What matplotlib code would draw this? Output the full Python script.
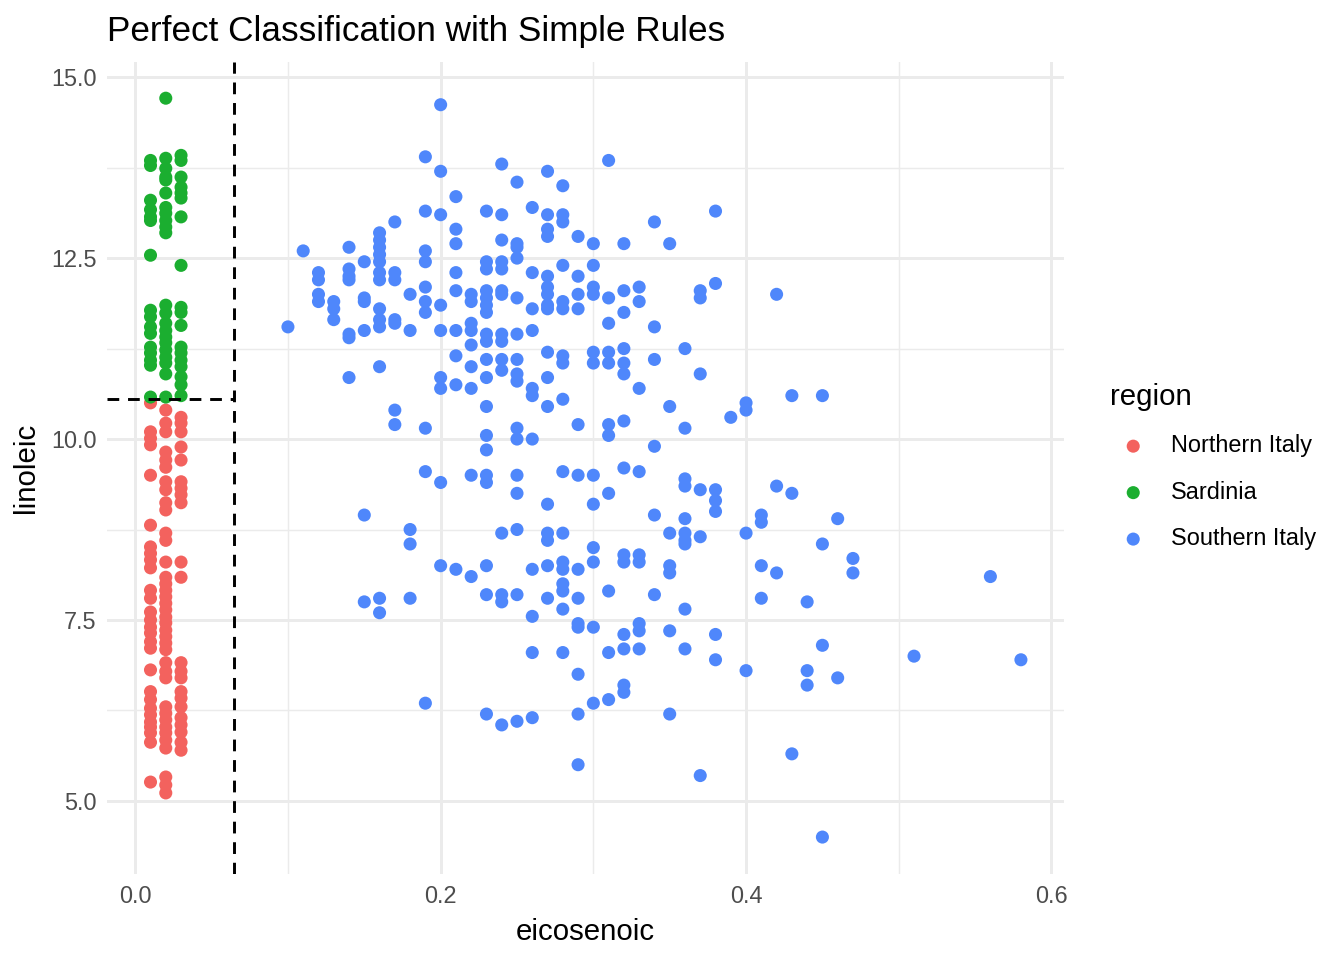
import matplotlib
matplotlib.use("Agg")
from matplotlib import pyplot as plt

# linoleic values (in %) grouped by eicosenoic value
northern = {
    0.01: [10.5, 10.1, 10.01, 9.92, 9.5, 8.81, 8.51, 8.42, 8.33, 8.22, 7.91, 7.8, 7.61, 7.5, 7.4,
           7.32, 7.2, 7.11, 6.81, 6.51, 6.4, 6.28, 6.19, 6.09, 6.02, 5.94, 5.81, 5.26],
    0.02: [10.4, 10.22, 10.1, 9.82, 9.71, 9.61, 9.41, 9.3, 9.12, 9.02, 8.7, 8.6, 8.3, 8.09, 8.0,
           7.91, 7.82, 7.73, 7.64, 7.54, 7.46, 7.36, 7.27, 7.18, 7.09, 6.91, 6.79, 6.7, 6.3, 6.21,
           6.12, 6.02, 5.94, 5.84, 5.73, 5.33, 5.22, 5.11],
    0.03: [10.3, 10.22, 10.1, 9.89, 9.71, 9.41, 9.32, 9.23, 9.12, 8.3, 8.09, 6.91, 6.79, 6.7,
           6.51, 6.42, 6.3, 6.15, 6.05, 5.95, 5.81, 5.7],
}
sardinia = {
    0.01: [13.85, 13.78, 13.3, 13.17, 13.07, 13.02, 12.54, 11.78, 11.69, 11.55, 11.46, 11.27,
           11.19, 11.09, 11.02, 10.58],
    0.02: [14.71, 13.88, 13.74, 13.62, 13.58, 13.4, 13.2, 13.12, 13.02, 12.93, 12.85, 11.85,
           11.74, 11.6, 11.5, 11.41, 11.33, 11.23, 11.13, 11.05, 10.9, 10.58],
    0.03: [13.92, 13.85, 13.62, 13.48, 13.4, 13.33, 13.07, 12.4, 11.82, 11.75, 11.57, 11.27,
           11.19, 11.09, 11.0, 10.86, 10.75, 10.6],
}
southern = {
    0.10: [11.55],
    0.11: [12.6],
    0.12: [12.3, 12.2, 12.0, 11.9],
    0.13: [11.9, 11.8, 11.65],
    0.14: [12.65, 12.35, 12.25, 12.2, 11.45, 11.4, 10.85],
    0.15: [12.45, 11.95, 11.9, 11.5, 8.95, 7.75],
    0.16: [12.85, 12.75, 12.65, 12.55, 12.45, 12.3, 12.2, 11.8, 11.65, 11.55, 11.0, 7.8, 7.6],
    0.17: [13.0, 12.3, 12.2, 11.65, 11.6, 10.4, 10.2],
    0.18: [12.0, 11.5, 8.75, 8.55, 7.8],
    0.19: [13.9, 13.15, 12.6, 12.45, 12.1, 11.9, 11.75, 10.15, 9.55, 6.35],
    0.20: [14.62, 13.7, 13.1, 11.85, 11.5, 10.85, 10.7, 9.4, 8.25],
    0.21: [13.35, 12.9, 12.7, 12.3, 12.05, 11.5, 11.15, 10.75, 8.2],
    0.22: [12.0, 11.9, 11.6, 11.5, 11.3, 11.0, 10.7, 9.5, 8.1],
    0.23: [13.15, 12.45, 12.35, 12.05, 11.95, 11.85, 11.75, 11.45, 11.35, 11.1, 10.85, 10.45,
           10.05, 9.85, 9.5, 9.4, 8.25, 7.85, 6.2],
    0.24: [13.8, 13.1, 12.75, 12.45, 12.35, 12.05, 12.0, 11.45, 11.35, 11.1, 10.95, 8.7, 7.85,
           7.75, 6.05],
    0.25: [13.55, 12.7, 12.65, 12.5, 11.95, 11.45, 11.1, 10.9, 10.8, 10.15, 10.0, 9.5, 9.25,
           8.75, 7.85, 6.1],
    0.26: [13.2, 12.3, 11.8, 11.5, 10.7, 10.6, 10.0, 8.2, 7.55, 7.05, 6.15],
    0.27: [13.7, 13.1, 12.9, 12.8, 12.25, 12.1, 12.0, 11.85, 11.8, 11.2, 10.85, 10.45, 9.1,
           8.7, 8.6, 8.25, 7.8],
    0.28: [13.5, 13.1, 13.0, 12.4, 11.9, 11.8, 11.15, 11.05, 10.55, 9.55, 8.7, 8.3, 8.2, 8.0,
           7.9, 7.65, 7.05],
    0.29: [12.8, 12.25, 12.0, 11.8, 10.2, 9.5, 8.2, 7.8, 7.45, 7.4, 6.75, 6.2, 5.5],
    0.30: [12.7, 12.4, 12.1, 12.0, 11.2, 11.05, 9.5, 9.1, 8.5, 8.3, 7.4, 6.35],
    0.31: [13.85, 11.95, 11.6, 11.2, 11.05, 10.2, 10.05, 9.25, 7.9, 7.05, 6.4],
    0.32: [12.7, 12.05, 11.75, 11.25, 11.05, 10.9, 10.25, 9.6, 8.4, 8.3, 7.3, 7.1, 6.6, 6.5],
    0.33: [12.1, 11.9, 10.7, 9.55, 8.4, 8.3, 7.45, 7.35, 7.1],
    0.34: [13.0, 11.55, 11.1, 9.9, 8.95, 7.85],
    0.35: [12.7, 10.45, 8.7, 8.25, 8.15, 7.35, 6.2],
    0.36: [11.25, 10.15, 9.45, 9.35, 8.9, 8.7, 8.6, 8.55, 7.65, 7.1],
    0.37: [12.05, 11.95, 10.9, 9.3, 8.65, 5.35],
    0.38: [13.15, 12.15, 9.3, 9.15, 9.0, 7.3, 6.95],
    0.39: [10.3],
    0.40: [10.5, 10.4, 8.7, 6.8],
    0.41: [8.95, 8.85, 8.25, 7.8],
    0.42: [12.0, 9.35, 8.15],
    0.43: [10.6, 9.25, 5.65],
    0.44: [7.75, 6.8, 6.6],
    0.45: [10.6, 8.55, 7.15, 4.5],
    0.46: [8.9, 6.7],
    0.47: [8.35, 8.15],
    0.51: [7.0],
    0.56: [8.1],
    0.58: [6.95],
}

regions = ["Northern Italy", "Sardinia", "Southern Italy"]
colors = ["#F3625E", "#1BAE30", "#4F87FB"]
split_x = 0.065
split_y = 10.55

plt.rcParams['font.family'] = ['Liberation Sans', 'DejaVu Sans']
fig = plt.figure(figsize=(7, 5), dpi=192)
ax = fig.add_axes([0.0796, 0.0896, 0.7124, 0.8458])

for name, data, col in zip(regions, [northern, sardinia, southern], colors):
    xs = [k for k, vals in data.items() for v in vals]
    ys = [v for k, vals in data.items() for v in vals]
    ax.scatter(xs, ys, s=24, color=col, edgecolors='none', label=name, zorder=3)

ax.set_xlim(-0.0185, 0.6085)
ax.set_ylim(3.99, 15.21)

ax.axvline(split_x, color='black', lw=1.1, ls=(0, (4, 3)), zorder=4)
ax.plot([-0.0185, split_x], [split_y, split_y], color='black', lw=1.1, ls=(0, (4, 3)), zorder=4)

ax.set_xticks([0.0, 0.2, 0.4, 0.6])
ax.set_xticklabels(['0.0', '0.2', '0.4', '0.6'])
ax.set_yticks([5.0, 7.5, 10.0, 12.5, 15.0])
ax.set_yticklabels(['5.0', '7.5', '10.0', '12.5', '15.0'])
ax.set_xticks([0.1, 0.3, 0.5], minor=True)
ax.set_yticks([6.25, 8.75, 11.25, 13.75], minor=True)
ax.grid(True, which='major', color='#EBEBEB', lw=1.1, zorder=0)
ax.grid(True, which='minor', color='#EBEBEB', lw=0.55, zorder=0)
ax.set_axisbelow(True)
for s in ax.spines.values():
    s.set_visible(False)
ax.tick_params(which='both', length=0, labelsize=8.8, labelcolor='#4D4D4D', pad=4)

ax.set_xlabel('eicosenoic', fontsize=11, labelpad=4)
ax.set_ylabel('linoleic', fontsize=11, labelpad=4)
ax.set_title('Perfect Classification with Simple Rules', fontsize=13.2, loc='left', pad=8)

leg = fig.legend(loc='center left', bbox_to_anchor=(0.81, 0.514), frameon=False, title='region',
                 fontsize=8.8, title_fontsize=11, markerscale=1.0, handletextpad=0.6,
                 labelspacing=1.0, alignment='left')

plt.savefig('out.png', dpi=192)
